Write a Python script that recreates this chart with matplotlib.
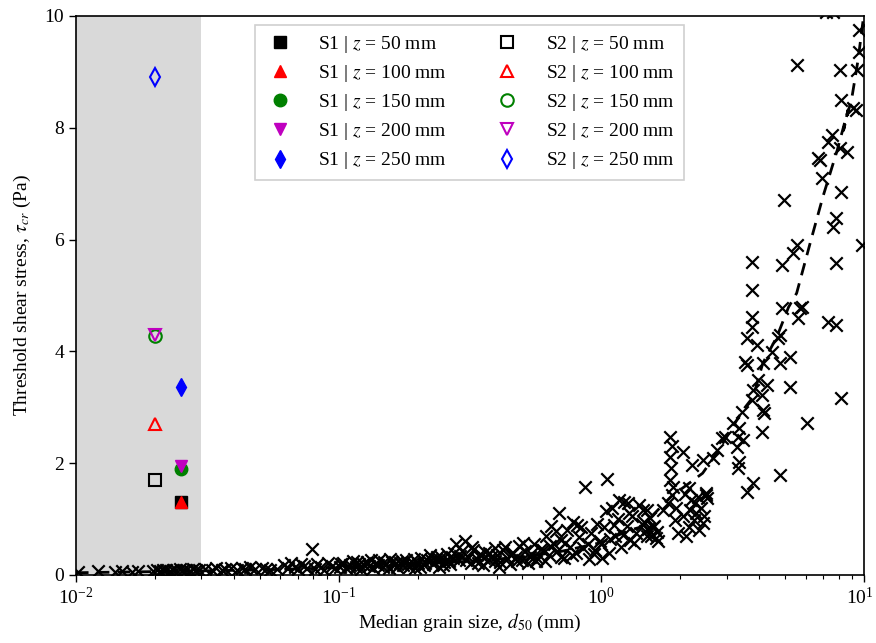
import numpy as np
import matplotlib
matplotlib.use("Agg")
import matplotlib.pyplot as plt
from matplotlib.transforms import ScaledTranslation

plt.rcParams["font.family"] = "serif"
plt.rcParams["font.serif"] = ["Liberation Serif", "DejaVu Serif"]
plt.rcParams["mathtext.fontset"] = "stix"
plt.rcParams["font.size"] = 14

# ---- literature data: median grain size (mm) and threshold shear stress (Pa)
d_fine = [0.0102, 0.0121, 0.0141, 0.0149, 0.0163, 0.0172, 0.0197, 0.0203, 0.0209,
          0.0214, 0.0221, 0.0228, 0.0234, 0.0241, 0.0249, 0.0256, 0.0263, 0.0271,
          0.0279, 0.0287, 0.0295, 0.031, 0.033, 0.034, 0.036, 0.037, 0.039, 0.041,
          0.043, 0.044, 0.046, 0.048, 0.051, 0.053, 0.055, 0.058]
tau_fine = [0.05, 0.07, 0.06, 0.07, 0.06, 0.07, 0.07, 0.08, 0.07,
            0.09, 0.08, 0.07, 0.09, 0.08, 0.10, 0.08, 0.09, 0.07,
            0.10, 0.09, 0.08, 0.10, 0.08, 0.12, 0.09, 0.11, 0.13, 0.09,
            0.12, 0.10, 0.14, 0.11, 0.13, 0.10, 0.09, 0.11]

d_silt = [0.062, 0.064, 0.066, 0.068, 0.070, 0.072, 0.074, 0.076, 0.079, 0.081,
          0.083, 0.086, 0.088, 0.091, 0.094, 0.097,
          0.101, 0.104, 0.107, 0.110, 0.113, 0.116, 0.119, 0.122, 0.125, 0.128,
          0.131, 0.135, 0.139, 0.143, 0.147, 0.151, 0.155, 0.159, 0.163, 0.167,
          0.171, 0.176, 0.181, 0.186, 0.191, 0.196,
          0.102, 0.109, 0.117, 0.124, 0.133, 0.141, 0.149, 0.157, 0.165, 0.174,
          0.183, 0.193]
tau_silt = [0.18, 0.12, 0.22, 0.15, 0.10, 0.20, 0.16, 0.13, 0.47, 0.11,
            0.19, 0.14, 0.09, 0.21, 0.16, 0.12,
            0.15, 0.22, 0.12, 0.18, 0.25, 0.14, 0.20, 0.11, 0.17, 0.23,
            0.16, 0.13, 0.21, 0.26, 0.15, 0.19, 0.12, 0.24, 0.17, 0.14,
            0.22, 0.18, 0.27, 0.15, 0.21, 0.13,
            0.19, 0.14, 0.24, 0.20, 0.27, 0.17, 0.23, 0.28, 0.21, 0.25,
            0.19, 0.29]

d_sand = [0.201, 0.206, 0.211, 0.216, 0.222, 0.228, 0.234, 0.240, 0.246, 0.252,
          0.259, 0.266, 0.273, 0.280, 0.287, 0.295, 0.302, 0.310, 0.318, 0.326,
          0.335, 0.344, 0.353, 0.362, 0.372, 0.382, 0.392,
          0.204, 0.214, 0.225, 0.237, 0.249, 0.262, 0.276, 0.290, 0.305, 0.321,
          0.338, 0.356, 0.375, 0.395,
          0.402, 0.413, 0.424, 0.436, 0.448, 0.460, 0.473, 0.486, 0.499, 0.513,
          0.527, 0.541, 0.556, 0.571, 0.587,
          0.408, 0.430, 0.454, 0.479, 0.505, 0.533, 0.563,
          0.60, 0.615, 0.63, 0.645, 0.66, 0.675, 0.69, 0.705, 0.72, 0.74, 0.76,
          0.78, 0.80, 0.82, 0.84, 0.865, 0.89, 0.915, 0.94, 0.965, 0.99,
          0.61, 0.64, 0.67, 0.70, 0.73, 0.77, 0.81, 0.85, 0.90, 0.95]
tau_sand = [0.22, 0.30, 0.17, 0.26, 0.35, 0.20, 0.28, 0.14, 0.32, 0.24,
            0.38, 0.19, 0.30, 0.55, 0.26, 0.42, 0.60, 0.33, 0.22, 0.45,
            0.29, 0.37, 0.18, 0.41, 0.27, 0.34, 0.48,
            0.15, 0.21, 0.27, 0.33, 0.18, 0.25, 0.40, 0.34, 0.27, 0.50,
            0.22, 0.31, 0.39, 0.25,
            0.36, 0.24, 0.45, 0.30, 0.19, 0.40, 0.33, 0.52, 0.27, 0.43,
            0.22, 0.38, 0.56, 0.31, 0.47,
            0.15, 0.50, 0.35, 0.25, 0.58, 0.33, 0.25,
            0.45, 0.70, 0.35, 0.88, 0.55, 0.42, 1.10, 0.62, 0.30, 0.80, 0.50,
            0.95, 0.40, 0.68, 0.85, 1.57, 0.55, 0.75, 0.38, 0.92, 0.60,
            0.25, 0.52, 0.78, 0.33, 0.58, 0.36, 0.90, 0.48, 0.28, 0.45]

d_coarse = [1.00, 1.02, 1.05, 1.07, 1.10, 1.13, 1.16, 1.19, 1.22, 1.25, 1.28, 1.31,
            1.35, 1.39, 1.43, 1.47, 1.51, 1.55, 1.59, 1.63,
            1.01, 1.04, 1.08, 1.12, 1.17, 1.21, 1.27, 1.33, 1.45, 1.49, 1.53, 1.57,
            1.61, 1.65, 1.26, 1.44, 1.49,
            1.83, 1.85, 1.82, 1.84, 1.83, 1.88, 1.86, 1.71, 1.90, 1.95, 1.80, 1.92,
            2.04, 2.15, 2.22, 2.33, 2.51, 2.28, 2.30, 2.25, 2.43, 2.18, 2.15, 2.05,
            2.40, 2.35, 2.20, 2.10, 2.45, 2.08]
tau_coarse = [0.55, 0.85, 1.72, 0.40, 1.20, 0.70, 1.00, 0.50, 1.30, 0.88, 0.62, 1.05,
              0.75, 1.25, 0.92, 0.78, 0.82, 0.70, 0.88, 0.76,
              0.30, 1.15, 0.65, 0.90, 1.35, 0.72, 1.10, 0.58, 0.95, 0.70, 1.02, 0.85,
              0.66, 0.60, 1.29, 1.16, 1.16,
              2.47, 2.30, 2.11, 1.91, 1.70, 1.57, 1.43, 1.16, 0.98, 0.75, 1.28, 1.20,
              2.20, 1.56, 1.97, 1.40, 1.43, 1.29, 1.11, 0.98, 0.93, 1.16, 0.86, 1.05,
              1.20, 0.80, 1.35, 0.70, 1.05, 1.45]

d_gravel = [2.44, 2.66, 2.76, 2.88, 2.95, 3.17, 3.28, 3.35, 3.30, 3.43, 3.46, 3.35,
            3.30, 3.58, 3.78, 2.50, 2.52, 4.79, 4.08, 4.12, 4.15, 3.74, 4.08, 3.78,
            3.95, 4.27, 5.22, 4.12, 3.52, 3.58, 4.79, 4.46, 5.25, 3.91, 3.58, 4.79,
            4.69, 3.74, 3.74, 4.87, 5.70, 5.60, 3.74, 3.74, 4.87, 5.36, 5.55, 6.07,
            8.20, 7.30, 7.80, 5.80,
            5.55, 8.09, 9.40, 9.60, 9.60, 8.20, 9.33, 9.10, 7.55, 7.30, 8.60, 8.10,
            6.68, 6.80, 6.95, 8.20, 4.94, 7.80, 7.60, 9.80, 7.80, 7.16, 7.62]
tau_gravel = [2.06, 2.09, 2.24, 2.45, 2.47, 2.72, 2.29, 2.63, 2.47, 2.92, 2.41, 2.02,
              1.91, 1.48, 1.65, 1.47, 1.38, 1.79, 2.56, 2.95, 2.90, 3.13, 3.22, 3.31,
              3.49, 3.40, 3.36, 3.79, 3.81, 3.76, 3.79, 3.99, 3.90, 4.11, 4.24, 4.29,
              4.24, 4.44, 4.62, 4.78, 4.78, 4.60, 5.10, 5.60, 5.55, 5.76, 5.90, 2.72,
              3.17, 4.53, 4.47, 4.80,
              9.12, 9.03, 9.03, 9.75, 9.36, 8.50, 8.32, 8.35, 7.87, 7.75, 7.57, 7.64,
              7.46, 7.42, 7.10, 6.85, 6.71, 6.39, 6.23, 5.90, 5.58, 10.07, 10.07]

# ---- threshold curve through the data
d_curve = [0.01, 0.02, 0.05, 0.1, 0.2, 0.3, 0.5, 0.7, 1.0, 1.28, 1.42, 1.84, 2.43,
           2.77, 3.0, 3.46, 3.78, 4.12, 4.66, 5.16, 5.54, 6.24, 6.98, 7.91, 8.70,
           8.35, 9.00, 9.49, 9.97]
tau_curve = [0.04, 0.06, 0.09, 0.13, 0.19, 0.24, 0.32, 0.42, 0.58, 0.80, 0.86, 1.40,
             1.82, 2.20, 2.47, 2.95, 3.18, 3.79, 4.26, 4.79, 5.04, 5.94, 6.77, 7.60,
             8.32, 7.95, 8.55, 9.21, 10.0]

# ---- flume samples S1 and S2 at five depths
depth_mm = [50, 100, 150, 200, 250]
s1_d50 = 0.025
s2_d50 = 0.020
s1_tau = [1.30, 1.30, 1.90, 1.95, 3.36]
s2_tau = [1.70, 2.70, 4.28, 4.30, 8.90]
depth_colors = ["k", "r", "g", "m", "b"]
depth_markers = ["s", "^", "o", "v", "d"]

fig = plt.figure(figsize=(8.76, 6.43), dpi=100)
ax = fig.add_axes([0.0868, 0.1058, 0.8995, 0.8694])

ax.axvspan(0.01, 0.03, color="#d9d9d9", lw=0, zorder=0)

d_all = d_fine + d_silt + d_sand + d_coarse + d_gravel
tau_all = tau_fine + tau_silt + tau_sand + tau_coarse + tau_gravel
ax.scatter(d_all, tau_all, marker="x", s=80, c="k", linewidths=1.6, zorder=2)
ax.plot(d_curve, tau_curve, "k--", lw=2.0, dashes=(4.5, 3), zorder=3)

handles_s1 = []
handles_s2 = []
for z, t1, t2, col, mk in zip(depth_mm, s1_tau, s2_tau, depth_colors, depth_markers):
    h1, = ax.plot([s1_d50], [t1], ls="none", marker=mk, ms=9, mfc=col, mec=col,
                  label=rf"S1 | $z$ = {z} mm", zorder=4)
    h2, = ax.plot([s2_d50], [t2], ls="none", marker=mk, ms=9, mfc="none", mec=col,
                  mew=1.5, label=rf"S2 | $z$ = {z} mm", zorder=4)
    handles_s1.append(h1)
    handles_s2.append(h2)

ax.set_xscale("log")
ax.set_xlim(0.01, 10)
ax.set_ylim(0, 10)
ax.set_xticks([0.01, 0.1, 1, 10])
ax.set_yticks([0, 2, 4, 6, 8, 10])
ax.tick_params(which="major", direction="out", length=5, width=1.0)
ax.tick_params(which="minor", direction="out", length=3, width=0.8)
for sp in ax.spines.values():
    sp.set_linewidth(1.2)

ax.set_xlabel(r"Median grain size, $d_{50}$ (mm)", labelpad=3)
ax.set_ylabel(r"Threshold shear stress, $\tau_{cr}$ (Pa)", labelpad=8)

# keep the 10^1 label inside the figure edge
fig.canvas.draw()
for tick in ax.xaxis.get_major_ticks():
    if np.isclose(tick.get_loc(), 10):
        lab = tick.label1
        lab.set_transform(lab.get_transform()
                          + ScaledTranslation(-3 / 72, 0, fig.dpi_scale_trans))

leg = ax.legend(handles=handles_s1 + handles_s2, ncol=2, loc="upper center",
                bbox_to_anchor=(0.4994, 0.984), borderaxespad=0,
                fancybox=False, framealpha=1,
                edgecolor="#d0d0d0", labelspacing=0.42, columnspacing=2.3,
                handlelength=1.6, handletextpad=1.2, borderpad=0.45)
leg.get_frame().set_linewidth(1.2)

fig.savefig("out.png", dpi=100)
